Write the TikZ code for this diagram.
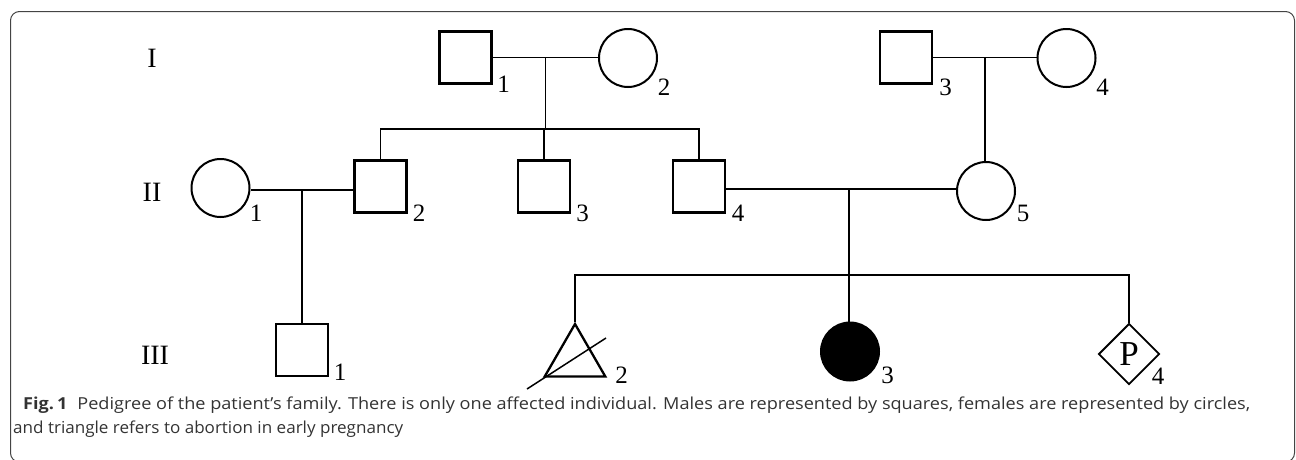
\documentclass[tikz,border=0pt]{standalone}
\usepackage{fontspec}
\setmainfont{Liberation Serif}
\newfontfamily\capfont{Open Sans}
\usetikzlibrary{shapes.geometric,calc}
\definecolor{capgray}{HTML}{333333}
\definecolor{framegray}{HTML}{444444}
\begin{document}
\begin{tikzpicture}[x=1pt,y=-1pt,
  male/.style={draw,rectangle,minimum size=52pt,inner sep=0pt,line width=2.3pt},
  female/.style={draw,circle,minimum size=58pt,inner sep=0pt,line width=2pt},
  affected/.style={female,fill=black},
  abort/.style={draw,regular polygon,regular polygon sides=3,minimum size=70pt,inner sep=0pt,line width=2.3pt},
  preg/.style={draw,diamond,aspect=1,minimum size=61pt,inner sep=0pt,line width=1.9pt,font=\fontsize{35}{35}\selectfont},
  link/.style={line width=1.5pt},
  num/.style={font=\fontsize{25}{25}\selectfont,inner sep=0pt},
  gen/.style={font=\fontsize{28}{28}\selectfont,inner sep=0pt},
  captext/.style={anchor=base west,inner sep=0pt,text=capgray,font=\capfont\fontsize{16.5}{20}\selectfont}
]
\useasboundingbox (0,0) rectangle (1296,459);
\draw[framegray,line width=1pt,rounded corners=9pt] (10.5,11.5) rectangle (1294.5,462);

% generation labels
\node[gen] (gI) at (152,58) {I};
\node[gen] (gII) at (152,192) {II};
\node[gen] (gIII) at (155,355) {III};

% generation I
\node[male] (I1) at (465.5,57.5) {};
\node[female] (I2) at (628,58) {};
\node[male] (I3) at (906,57.5) {};
\node[female] (I4) at (1066.5,58) {};

% generation II
\node[female] (II1) at (220.5,188) {};
\node[male] (II2) at (380.5,186.5) {};
\node[male] (II3) at (544,186.5) {};
\node[male] (II4) at (699,186.5) {};
\node[female] (II5) at (986,191) {};

% generation III
\node[male] (III1) at (302,350) {};
\node[abort] (III2) at (575,359) {};
\node[affected] (III3) at (850,351.5) {};
\node[preg] (III4) at (1129,354) {P};

% number labels
\node[num] (nI1) at (503.5,84) {1};
\node[num] (nI2) at (664,87) {2};
\node[num] (nI3) at (945.5,87) {3};
\node[num] (nI4) at (1102.5,87) {4};
\node[num] (nII1) at (256,213) {1};
\node[num] (nII2) at (419,213.5) {2};
\node[num] (nII3) at (582.5,213.5) {3};
\node[num] (nII4) at (738,213.5) {4};
\node[num] (nII5) at (1023,213.5) {5};
\node[num] (nIII1) at (340,372.5) {1};
\node[num] (nIII2) at (621.5,375) {2};
\node[num] (nIII3) at (887.5,375) {3};
\node[num] (nIII4) at (1158,376) {4};

% couples and descent
\coordinate (c1) at (545.5,57.5);
\coordinate (s1) at (545.5,129);
\coordinate (c2) at (985,57.5);
\coordinate (c3) at (302,190);
\coordinate (c4) at (849,189);
\coordinate (s2) at (849,275);

\draw[link] (I1.east) -- (I2.west |- I1.east);
\draw[link] (c1) -- (s1);
\draw[link] (II2.north) -- (II2.north |- s1) -- (II4.north |- s1) -- (II4.north);
\draw[link] (II3.north) -- (II3.north |- s1);

\draw[link] (I3.east) -- (I4.west |- I3.east);
\draw[link] (c2) -- (c2 |- II5.north);

\draw[link] (II1.east |- c3) -- (II2.west |- c3);
\draw[link] (c3) -- (c3 |- III1.north);

\draw[link] (II4.east |- c4) -- (II5.west |- c4);
\draw[link] (c4) -- (c4 |- III3.north);
\draw[link] (III2.north) -- (III2.north |- s2) -- (III4.north |- s2) -- (III4.north);

% abortion slash
\coordinate (sl1) at (527,389);
\coordinate (sl2) at (606,338);
\draw[link] (sl1) -- (sl2);

% caption
\node[captext] (cap1) at (23,409) {\resizebox{1227pt}{\height}{\textbf{Fig.\,1}\hspace{0.55em}Pedigree of the patient’s family. There is only one affected individual. Males are represented by squares, females are represented by circles,}};
\node[captext] (cap2) at (13,433) {\resizebox{390pt}{\height}{and triangle refers to abortion in early pregnancy}};
\end{tikzpicture}
\end{document}
